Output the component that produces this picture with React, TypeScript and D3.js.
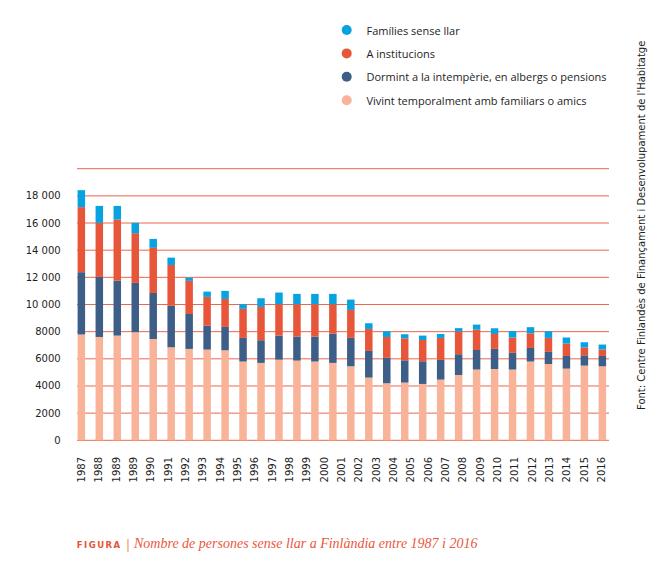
import React from "react";
import * as d3 from "d3";

const years = [
  "1987","1988","1989","1990","1991","1992","1993","1994","1995","1996",
  "1997","1998","1999","2000","2001","2002","2003","2004","2005","2006",
  "2007","2008","2009","2010","2011","2012","2013","2014","2015","2016",
];

// Tick labels as printed under the axis (the original repeats 1989)
const tickLabels = [
  "1987","1988","1989","1989","1990","1991","1992","1993","1994","1995","1996",
  "1997","1998","1999","2000","2001","2002","2003","2004","2005","2006",
  "2007","2008","2009","2010","2011","2012","2013","2014","2015","2016",
];

const vivint = [7790,7610,7710,7960,7460,6850,6730,6680,6630,5800,5700,5940,5870,5800,5700,5450,4620,4200,4250,4150,4470,4810,5210,5250,5210,5800,5620,5280,5500,5450];
const dormint = [4590,4420,4050,3630,3390,3050,2570,1770,1720,1740,1670,1770,1770,1840,2160,2090,1960,1870,1640,1670,1450,1530,1440,1480,1230,1000,890,930,760,760];
const institucions = [4790,3980,4490,3660,3320,3010,2440,2110,2060,2140,2450,2310,2380,2380,2160,2060,1620,1540,1620,1570,1620,1670,1500,1100,1130,1080,1030,910,570,470];
const families = [1250,1250,1010,760,660,540,240,390,590,340,640,860,760,760,760,760,420,420,300,320,290,250,370,420,470,450,490,450,390,370];

const seriesKeys = ["vivint", "dormint", "institucions", "families"];
const seriesColors = ["#f8b398", "#3d5e86", "#e8563a", "#07a3e1"];
const legendLabels = [
  "Famílies sense llar",
  "A institucions",
  "Dormint a la intempèrie, en albergs o pensions",
  "Vivint temporalment amb familiars o amics",
];
const legendColors = ["#07a3e1", "#e8563a", "#3d5e86", "#f8b398"];

const yTicks = [0, 2000, 4000, 6000, 8000, 10000, 12000, 14000, 16000, 18000];
const gridValues = [0, 2000, 4000, 6000, 8000, 10000, 12000, 14000, 16000, 18000, 20000];

const fmt = (v: number) => (v >= 10000 ? d3.format(",")(v).replace(",", " ") : String(v));

export default function App() {
  const W = 658, H = 586;
  const y = d3.scaleLinear().domain([0, 20000]).range([440.3, 168.7]);
  const x = d3.scaleBand<string>().domain(years).range([77.6, 606.1]).paddingInner(0.5825).paddingOuter(0).align(0);
  const xl = d3.scalePoint<string>().domain(tickLabels.map((_, i) => String(i))).range([81.5, 601.5]);

  const table = years.map((yr, i) => ({
    year: yr,
    vivint: vivint[i],
    dormint: dormint[i],
    institucions: institucions[i],
    families: families[i],
  }));
  const stack = d3.stack<any>().keys(seriesKeys)(table);

  const axisFont = "DejaVu Sans, Verdana, sans-serif";
  const textCol = "#1e1e24";

  return (
    <svg width={W} height={H} style={{ position: "absolute", left: 0, top: 0, background: "#fff" }}>
      {/* legend */}
      {legendLabels.map((l, i) => (
        <g key={l} transform={`translate(0, ${30 + i * 23.4})`}>
          <circle cx={346.7} cy={0} r={5} fill={legendColors[i]} />
          <text x={366.5} y={0} dominantBaseline="central" fontFamily="Open Sans, sans-serif" fontSize={11} fontWeight={500} fill={textCol}>
            {l}
          </text>
        </g>
      ))}

      {/* gridlines */}
      {gridValues.map((v) => (
        <line key={v} x1={77} x2={609} y1={y(v)} y2={y(v)} stroke="#e9573d" strokeWidth={1} opacity={0.9} />
      ))}

      {/* y labels */}
      {yTicks.map((v) => (
        <text key={v} x={60.7} y={y(v)} textAnchor="end" dominantBaseline="central" fontFamily={axisFont} fontSize={10} fill={textCol}>
          {fmt(v)}
        </text>
      ))}

      {/* bars */}
      {stack.map((s, si) => (
        <g key={s.key} fill={seriesColors[si]}>
          {s.map((d: any, i: number) => (
            <rect key={i} x={x(years[i])} width={x.bandwidth()} y={y(d[1])} height={y(d[0]) - y(d[1])} />
          ))}
        </g>
      ))}

      {/* x labels */}
      {tickLabels.map((l, i) => {
        const px = xl(String(i)) as number;
        return (
          <text key={i} transform={`translate(${px}, 457) rotate(-90)`} textAnchor="end" dominantBaseline="central" fontFamily={axisFont} fontSize={10} fill={textCol}>
            {l}
          </text>
        );
      })}

      {/* source */}
      <text transform="translate(641, 410) rotate(-90)" textAnchor="start" dominantBaseline="central" fontFamily={axisFont} fontSize={10} fill={textCol}>
        Font: Centre Finlandès de Finançament i Desenvolupament de l'Habitatge
      </text>

      {/* caption */}
      <text x={76.7} y={548} fontFamily="DejaVu Sans, sans-serif" fontWeight="bold" fontSize={8.5} letterSpacing={1.5} fill="#e6533b">
        FIGURA
      </text>
      <text x={126.5} y={549} fontFamily="Liberation Serif, serif" fontSize={15} fill="#e9573d">|</text>
      <text x={134} y={548} fontFamily="Liberation Serif, serif" fontStyle="italic" fontSize={14} fill="#e9573d">
        Nombre de persones sense llar a Finlàndia entre 1987 i 2016
      </text>
    </svg>
  );
}
